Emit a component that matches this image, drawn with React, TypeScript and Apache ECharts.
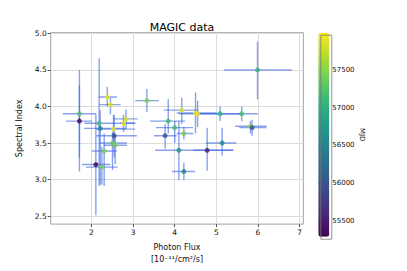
import React, { useEffect, useRef } from "react";
import * as echarts from "echarts";

const flux = [1.71, 1.71, 2.185, 2.21, 2.38, 2.455, 2.83, 2.77, 2.53, 2.545, 2.505, 2.57, 2.305, 2.105, 2.25, 3.33, 4.17, 4.5, 4.55, 3.845, 4.0, 4.22, 3.77, 4.1, 4.78, 4.22, 5.14, 5.09, 5.61, 5.82, 5.86, 5.99];
const index = [3.9, 3.8, 3.77, 3.7, 4.13, 4.025, 3.83, 3.77, 3.69, 3.6, 3.5, 3.47, 3.39, 3.205, 3.17, 4.08, 3.95, 3.91, 3.9, 3.8, 3.71, 3.63, 3.6, 3.4, 3.4, 3.11, 3.5, 3.9, 3.9, 3.73, 3.71, 4.5];
const fluxLo = [1.31, 1.39, 1.83, 1.82, 2.17, 2.19, 2.53, 2.69, 2.105, 2.12, 2.2, 2.29, 2.01, 1.77, 1.87, 3.05, 3.74, 4.05, 4.1, 3.41, 3.55, 4.05, 3.5, 3.53, 4.44, 3.93, 4.75, 4.55, 5.1, 5.45, 5.55, 5.19];
const fluxHi = [2.11, 2.01, 3.05, 2.84, 2.61, 2.7, 3.11, 3.05, 3.05, 3.09, 2.85, 2.85, 2.61, 2.45, 2.63, 3.62, 4.57, 5.01, 5.05, 4.25, 4.44, 4.45, 4.05, 5.41, 5.4, 4.49, 5.48, 5.6, 6.0, 6.21, 6.2, 6.81];
const indexLo = [3.3, 3.11, 2.91, 2.93, 4.0, 3.89, 3.7, 3.65, 3.44, 3.3, 3.13, 3.21, 2.91, 2.51, 2.93, 3.92, 3.76, 3.63, 3.72, 3.63, 3.5, 3.55, 3.42, 2.99, 3.12, 2.99, 3.33, 3.8, 3.8, 3.63, 3.6, 4.1];
const indexHi = [4.5, 4.29, 4.66, 3.95, 4.27, 4.12, 3.96, 3.89, 3.89, 3.88, 3.65, 3.62, 3.63, 3.9, 3.45, 4.24, 4.12, 4.19, 4.08, 4.1, 3.8, 3.72, 3.76, 3.8, 3.71, 3.23, 3.71, 4.0, 4.0, 3.8, 3.82, 4.89];
const mjd = [57250, 55300, 57200, 56600, 57900, 57900, 57850, 57900, 57900, 55950, 57400, 57450, 57450, 55300, 57450, 57450, 57850, 57950, 57900, 57150, 57150, 57450, 56000, 56700, 55500, 56500, 56550, 57050, 57200, 57500, 56000, 57050];

const xTicks = [2, 3, 4, 5, 6, 7];
const yTicks = [2.5, 3.0, 3.5, 4.0, 4.5, 5.0];
const cbTicks = [55500, 56000, 56500, 57000, 57500];
const viridis = ["#440154", "#482878", "#3e4989", "#31688e", "#26828e", "#1f9e89", "#35b779", "#6ece58", "#b5de2b", "#fde725"];

const GL = 50.7, GT = 32.7, GW = 252.6, GH = 204;
const CBL = 318.3, CBW = 11;
const BAR_COLOR = "rgba(65,105,225,0.62)";

export default function App() {
  const ref = useRef<HTMLDivElement>(null);
  useEffect(() => {
    if (!ref.current) return;
    const chart = echarts.init(ref.current, null, { renderer: "svg" });
    const errData = flux.map((f, i) => [f, index[i], fluxLo[i], fluxHi[i], indexLo[i], indexHi[i]]);
    const ptData = flux.map((f, i) => [f, index[i], mjd[i]]);
    const font = "DejaVu Sans";
    chart.setOption({
      animation: false,
      textStyle: { fontFamily: font },
      title: {
        text: "MAGIC data",
        left: GL + GW / 2,
        textAlign: "center",
        top: 17,
        textStyle: { fontSize: 11, fontWeight: "normal", color: "#000", fontFamily: font },
      },
      grid: [
        { left: GL, top: GT, width: GW, height: GH, show: true, borderColor: "#a0a0a0", borderWidth: 1, backgroundColor: "#fff" },
        { left: CBL, top: GT, width: CBW, height: GH, show: false },
      ],
      xAxis: [
        {
          type: "value", gridIndex: 0, min: 1.02, max: 7.09,
          axisLine: { show: false },
          axisTick: { show: true, length: 3, lineStyle: { color: "#555" }, customValues: xTicks },
          axisLabel: { customValues: xTicks, fontSize: 7.5, color: "#111", margin: 4, fontFamily: font },
          splitLine: { show: true, lineStyle: { color: "#dcdcdc", width: 1 } },
          interval: 1,
          name: "Photon Flux\n[10⁻¹¹/cm²/s]",
          nameLocation: "middle",
          nameGap: 13,
          nameTextStyle: { fontSize: 8, color: "#111", lineHeight: 12.5, verticalAlign: "top", fontFamily: font },
        },
        { type: "value", gridIndex: 1, min: 0, max: 1, show: false },
      ],
      yAxis: [
        {
          type: "value", gridIndex: 0, min: 2.39, max: 5.01,
          axisLine: { show: false },
          axisTick: { show: true, length: 3, lineStyle: { color: "#555" }, customValues: yTicks },
          axisLabel: { customValues: yTicks, fontSize: 7.5, color: "#111", margin: 4, formatter: (v: number) => v.toFixed(1), fontFamily: font },
          splitLine: { show: true, lineStyle: { color: "#dcdcdc", width: 1 } },
          interval: 0.5,
          name: "Spectral Index",
          nameLocation: "middle",
          nameGap: 19,
          nameRotate: 90,
          nameTextStyle: { fontSize: 8, color: "#111", fontFamily: font },
        },
        {
          type: "value", gridIndex: 1, min: 55290, max: 57990, position: "right",
          axisLine: { show: false },
          axisTick: { show: true, length: 3, lineStyle: { color: "#333" }, customValues: cbTicks },
          axisLabel: { customValues: cbTicks, fontSize: 7, color: "#111", margin: 3, fontFamily: font, formatter: (v: number) => String(Math.round(v)) },
          splitLine: { show: false },
          name: "MJD",
          nameLocation: "middle",
          nameGap: 27,
          nameRotate: -90,
          nameTextStyle: { fontSize: 7, color: "#111", fontFamily: font },
        },
      ],
      visualMap: {
        type: "continuous",
        min: 55290, max: 57990,
        dimension: 2,
        seriesIndex: [0],
        calculable: false,
        show: true,
        left: CBL, top: GT,
        itemWidth: CBW, itemHeight: GH,
        padding: 0,
        text: ["", ""],
        textGap: 0,
        inRange: { color: viridis },
        hoverLink: false,
      },
      graphic: [
        { type: "rect", left: CBL, top: GT, shape: { x: 0, y: 0, width: CBW, height: GH }, style: { fill: "none", stroke: "#777", lineWidth: 0.8 }, z: 100 },
      ],
      series: [
        {
          type: "scatter",
          xAxisIndex: 0, yAxisIndex: 0,
          data: ptData,
          symbol: "circle",
          symbolSize: 5,
          z: 5,
        },
        {
          type: "custom",
          xAxisIndex: 0, yAxisIndex: 0,
          data: errData,
          clip: true,
          z: 2,
          renderItem: (params: any, api: any) => {
            const x = api.value(0), y = api.value(1);
            const xl = api.coord([api.value(2), y]);
            const xh = api.coord([api.value(3), y]);
            const yl = api.coord([x, api.value(4)]);
            const yh = api.coord([x, api.value(5)]);
            return {
              type: "group",
              children: [
                { type: "line", shape: { x1: xl[0], y1: xl[1], x2: xh[0], y2: xh[1] }, style: { stroke: BAR_COLOR, lineWidth: 1.4 } },
                { type: "line", shape: { x1: yl[0], y1: yl[1], x2: yh[0], y2: yh[1] }, style: { stroke: BAR_COLOR, lineWidth: 1.4 } },
              ],
            };
          },
        },
        {
          type: "scatter",
          xAxisIndex: 1, yAxisIndex: 1,
          data: [],
        },
      ],
    });
    return () => chart.dispose();
  }, []);
  return <div ref={ref} style={{ position: "fixed", left: 0, top: 0, width: 407, height: 271, background: "#fff" }} />;
}
